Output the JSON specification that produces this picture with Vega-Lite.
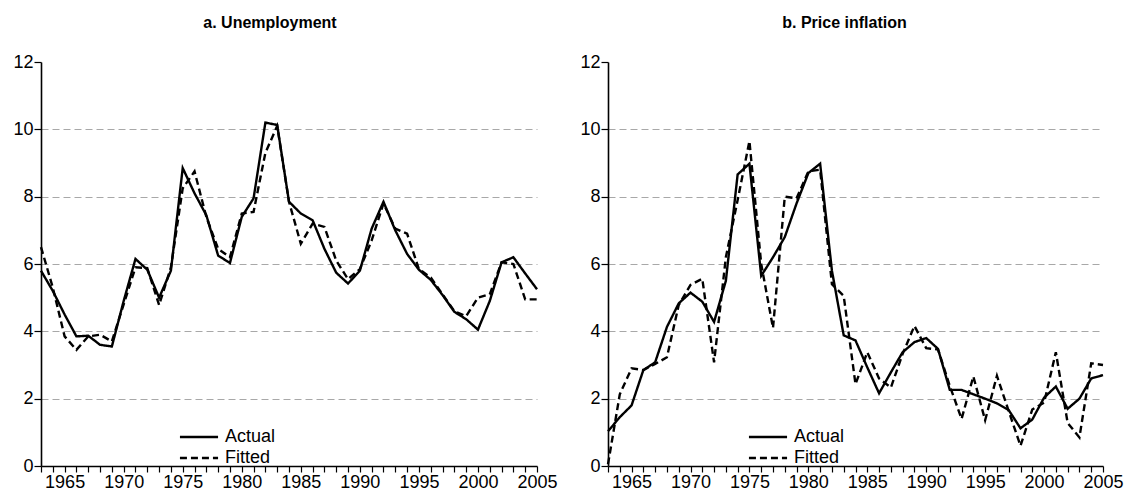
{
  "$schema": "https://vega.github.io/schema/vega-lite/v6.json",
  "background": "white",
  "padding": {"left": 12, "top": 15, "right": 2, "bottom": 5},
  "config": {
    "font": "Liberation Sans",
    "view": {"stroke": null},
    "axis": {
      "labelFont": "Liberation Sans", "labelFontSize": 18, "labelColor": "#000",
      "domainColor": "#000", "domainWidth": 1.6, "tickColor": "#000", "tickWidth": 1.2,
      "title": null
    },
    "title": {"font": "Liberation Sans", "fontSize": 16, "fontWeight": "bold", "color": "#000", "offset": 22},
    "legend": {"labelFont": "Liberation Sans", "labelFontSize": 18, "labelColor": "#000"}
  },
  "datasets": {
    "unemp": [
      {"year":1963,"series":"Actual","value":5.8},{"year":1964,"series":"Actual","value":5.2},{"year":1965,"series":"Actual","value":4.5},{"year":1966,"series":"Actual","value":3.85},{"year":1967,"series":"Actual","value":3.87},{"year":1968,"series":"Actual","value":3.6},{"year":1969,"series":"Actual","value":3.55},{"year":1970,"series":"Actual","value":4.9},{"year":1971,"series":"Actual","value":6.15},{"year":1972,"series":"Actual","value":5.83},{"year":1973,"series":"Actual","value":5.0},{"year":1974,"series":"Actual","value":5.8},{"year":1975,"series":"Actual","value":8.85},{"year":1976,"series":"Actual","value":8.1},{"year":1977,"series":"Actual","value":7.45},{"year":1978,"series":"Actual","value":6.25},{"year":1979,"series":"Actual","value":6.03},{"year":1980,"series":"Actual","value":7.4},{"year":1981,"series":"Actual","value":7.95},{"year":1982,"series":"Actual","value":10.2},{"year":1983,"series":"Actual","value":10.13},{"year":1984,"series":"Actual","value":7.85},{"year":1985,"series":"Actual","value":7.5},{"year":1986,"series":"Actual","value":7.3},{"year":1987,"series":"Actual","value":6.45},{"year":1988,"series":"Actual","value":5.74},{"year":1989,"series":"Actual","value":5.42},{"year":1990,"series":"Actual","value":5.8},{"year":1991,"series":"Actual","value":7.05},{"year":1992,"series":"Actual","value":7.85},{"year":1993,"series":"Actual","value":7.0},{"year":1994,"series":"Actual","value":6.3},{"year":1995,"series":"Actual","value":5.83},{"year":1996,"series":"Actual","value":5.53},{"year":1997,"series":"Actual","value":5.08},{"year":1998,"series":"Actual","value":4.58},{"year":1999,"series":"Actual","value":4.36},{"year":2000,"series":"Actual","value":4.05},{"year":2001,"series":"Actual","value":4.9},{"year":2002,"series":"Actual","value":6.05},{"year":2003,"series":"Actual","value":6.2},{"year":2004,"series":"Actual","value":5.72},{"year":2005,"series":"Actual","value":5.25},
      {"year":1963,"series":"Fitted","value":6.5},{"year":1964,"series":"Fitted","value":5.3},{"year":1965,"series":"Fitted","value":3.85},{"year":1966,"series":"Fitted","value":3.45},{"year":1967,"series":"Fitted","value":3.85},{"year":1968,"series":"Fitted","value":3.9},{"year":1969,"series":"Fitted","value":3.7},{"year":1970,"series":"Fitted","value":4.8},{"year":1971,"series":"Fitted","value":5.9},{"year":1972,"series":"Fitted","value":5.88},{"year":1973,"series":"Fitted","value":4.78},{"year":1974,"series":"Fitted","value":5.9},{"year":1975,"series":"Fitted","value":8.25},{"year":1976,"series":"Fitted","value":8.75},{"year":1977,"series":"Fitted","value":7.4},{"year":1978,"series":"Fitted","value":6.45},{"year":1979,"series":"Fitted","value":6.2},{"year":1980,"series":"Fitted","value":7.5},{"year":1981,"series":"Fitted","value":7.55},{"year":1982,"series":"Fitted","value":9.3},{"year":1983,"series":"Fitted","value":10.1},{"year":1984,"series":"Fitted","value":7.85},{"year":1985,"series":"Fitted","value":6.6},{"year":1986,"series":"Fitted","value":7.2},{"year":1987,"series":"Fitted","value":7.1},{"year":1988,"series":"Fitted","value":6.1},{"year":1989,"series":"Fitted","value":5.55},{"year":1990,"series":"Fitted","value":5.85},{"year":1991,"series":"Fitted","value":6.7},{"year":1992,"series":"Fitted","value":7.8},{"year":1993,"series":"Fitted","value":7.05},{"year":1994,"series":"Fitted","value":6.9},{"year":1995,"series":"Fitted","value":5.85},{"year":1996,"series":"Fitted","value":5.6},{"year":1997,"series":"Fitted","value":5.1},{"year":1998,"series":"Fitted","value":4.6},{"year":1999,"series":"Fitted","value":4.45},{"year":2000,"series":"Fitted","value":5.0},{"year":2001,"series":"Fitted","value":5.1},{"year":2002,"series":"Fitted","value":6.05},{"year":2003,"series":"Fitted","value":6.0},{"year":2004,"series":"Fitted","value":4.95},{"year":2005,"series":"Fitted","value":4.95}
    ],
    "infl": [
      {"year":1963,"series":"Actual","value":1.03},{"year":1964,"series":"Actual","value":1.45},{"year":1965,"series":"Actual","value":1.8},{"year":1966,"series":"Actual","value":2.85},{"year":1967,"series":"Actual","value":3.08},{"year":1968,"series":"Actual","value":4.13},{"year":1969,"series":"Actual","value":4.83},{"year":1970,"series":"Actual","value":5.15},{"year":1971,"series":"Actual","value":4.88},{"year":1972,"series":"Actual","value":4.28},{"year":1973,"series":"Actual","value":5.5},{"year":1974,"series":"Actual","value":8.66},{"year":1975,"series":"Actual","value":8.98},{"year":1976,"series":"Actual","value":5.65},{"year":1977,"series":"Actual","value":6.2},{"year":1978,"series":"Actual","value":6.8},{"year":1979,"series":"Actual","value":7.8},{"year":1980,"series":"Actual","value":8.7},{"year":1981,"series":"Actual","value":8.98},{"year":1982,"series":"Actual","value":5.8},{"year":1983,"series":"Actual","value":3.88},{"year":1984,"series":"Actual","value":3.73},{"year":1985,"series":"Actual","value":2.93},{"year":1986,"series":"Actual","value":2.16},{"year":1987,"series":"Actual","value":2.78},{"year":1988,"series":"Actual","value":3.38},{"year":1989,"series":"Actual","value":3.68},{"year":1990,"series":"Actual","value":3.8},{"year":1991,"series":"Actual","value":3.48},{"year":1992,"series":"Actual","value":2.26},{"year":1993,"series":"Actual","value":2.26},{"year":1994,"series":"Actual","value":2.13},{"year":1995,"series":"Actual","value":2.0},{"year":1996,"series":"Actual","value":1.86},{"year":1997,"series":"Actual","value":1.66},{"year":1998,"series":"Actual","value":1.12},{"year":1999,"series":"Actual","value":1.38},{"year":2000,"series":"Actual","value":2.03},{"year":2001,"series":"Actual","value":2.36},{"year":2002,"series":"Actual","value":1.7},{"year":2003,"series":"Actual","value":2.0},{"year":2004,"series":"Actual","value":2.6},{"year":2005,"series":"Actual","value":2.7},
      {"year":1963,"series":"Fitted","value":0.05},{"year":1964,"series":"Fitted","value":2.13},{"year":1965,"series":"Fitted","value":2.9},{"year":1966,"series":"Fitted","value":2.85},{"year":1967,"series":"Fitted","value":3.03},{"year":1968,"series":"Fitted","value":3.23},{"year":1969,"series":"Fitted","value":4.78},{"year":1970,"series":"Fitted","value":5.38},{"year":1971,"series":"Fitted","value":5.56},{"year":1972,"series":"Fitted","value":3.08},{"year":1973,"series":"Fitted","value":6.2},{"year":1974,"series":"Fitted","value":7.9},{"year":1975,"series":"Fitted","value":9.65},{"year":1976,"series":"Fitted","value":6.0},{"year":1977,"series":"Fitted","value":4.1},{"year":1978,"series":"Fitted","value":8.0},{"year":1979,"series":"Fitted","value":7.95},{"year":1980,"series":"Fitted","value":8.75},{"year":1981,"series":"Fitted","value":8.8},{"year":1982,"series":"Fitted","value":5.4},{"year":1983,"series":"Fitted","value":5.05},{"year":1984,"series":"Fitted","value":2.43},{"year":1985,"series":"Fitted","value":3.38},{"year":1986,"series":"Fitted","value":2.6},{"year":1987,"series":"Fitted","value":2.33},{"year":1988,"series":"Fitted","value":3.33},{"year":1989,"series":"Fitted","value":4.16},{"year":1990,"series":"Fitted","value":3.5},{"year":1991,"series":"Fitted","value":3.46},{"year":1992,"series":"Fitted","value":2.38},{"year":1993,"series":"Fitted","value":1.4},{"year":1994,"series":"Fitted","value":2.66},{"year":1995,"series":"Fitted","value":1.36},{"year":1996,"series":"Fitted","value":2.68},{"year":1997,"series":"Fitted","value":1.63},{"year":1998,"series":"Fitted","value":0.6},{"year":1999,"series":"Fitted","value":1.68},{"year":2000,"series":"Fitted","value":1.88},{"year":2001,"series":"Fitted","value":3.38},{"year":2002,"series":"Fitted","value":1.28},{"year":2003,"series":"Fitted","value":0.85},{"year":2004,"series":"Fitted","value":3.05},{"year":2005,"series":"Fitted","value":3.0}
    ]
  },
  "spacing": 21,
  "resolve": {"scale": {"strokeDash": "independent"}, "legend": {"strokeDash": "independent"}},
  "hconcat": [
    {
      "width": 496, "height": 404,
      "title": {"text": "a. Unemployment", "dx": -19},
      "data": {"name": "unemp"},
      "mark": {"type": "line", "color": "#000", "strokeWidth": 2.4},
      "encoding": {
        "x": {"field": "year", "type": "quantitative", "scale": {"domain": [1963, 2005], "nice": false, "zero": false},
          "axis": {"values": [1963,1964,1965,1966,1967,1968,1969,1970,1971,1972,1973,1974,1975,1976,1977,1978,1979,1980,1981,1982,1983,1984,1985,1986,1987,1988,1989,1990,1991,1992,1993,1994,1995,1996,1997,1998,1999,2000,2001,2002,2003,2004,2005],
            "labelExpr": "datum.value % 5 == 0 ? datum.value : ''", "labelOverlap": false, "labelFlush": false, "grid": false, "tickSize": 6, "labelPadding": 1}},
        "y": {"field": "value", "type": "quantitative", "scale": {"domain": [0, 12], "nice": false},
          "axis": {"values": [0,2,4,6,8,10,12], "tickSize": 7, "labelPadding": 1, "labelFlush": false, "grid": true, "gridColor": "#a8a8a8", "gridDash": [7,4], "gridWidth": 1,
            "gridOpacity": {"condition": {"test": "datum.value == 0 || datum.value == 12", "value": 0}, "value": 1}}},
        "strokeDash": {"field": "series", "type": "nominal", "scale": {"domain": ["Actual", "Fitted"], "range": [[1, 0], [7, 4]]},
          "legend": {"title": null, "orient": "none", "legendX": 148, "legendY": 365, "symbolType": "M-2.2,0H2.2", "symbolSize": 300, "symbolStrokeWidth": 2.5, "symbolStrokeColor": "#000", "symbolFillColor": "transparent", "rowPadding": 2, "labelOffset": 16}}
      }
    },
    {
      "width": 495, "height": 404,
      "title": {"text": "b. Price inflation", "dx": -11},
      "data": {"name": "infl"},
      "mark": {"type": "line", "color": "#000", "strokeWidth": 2.4},
      "encoding": {
        "x": {"field": "year", "type": "quantitative", "scale": {"domain": [1963, 2005], "nice": false, "zero": false},
          "axis": {"values": [1963,1964,1965,1966,1967,1968,1969,1970,1971,1972,1973,1974,1975,1976,1977,1978,1979,1980,1981,1982,1983,1984,1985,1986,1987,1988,1989,1990,1991,1992,1993,1994,1995,1996,1997,1998,1999,2000,2001,2002,2003,2004,2005],
            "labelExpr": "datum.value % 5 == 0 ? datum.value : ''", "labelOverlap": false, "labelFlush": false, "grid": false, "tickSize": 6, "labelPadding": 1}},
        "y": {"field": "value", "type": "quantitative", "scale": {"domain": [0, 12], "nice": false},
          "axis": {"values": [0,2,4,6,8,10,12], "tickSize": 7, "labelPadding": 1, "labelFlush": false, "grid": true, "gridColor": "#a8a8a8", "gridDash": [7,4], "gridWidth": 1,
            "gridOpacity": {"condition": {"test": "datum.value == 0 || datum.value == 12", "value": 0}, "value": 1}}},
        "strokeDash": {"field": "series", "type": "nominal", "scale": {"domain": ["Actual", "Fitted"], "range": [[1, 0], [7, 4]]},
          "legend": {"title": null, "orient": "none", "legendX": 150, "legendY": 365, "symbolType": "M-2.2,0H2.2", "symbolSize": 300, "symbolStrokeWidth": 2.5, "symbolStrokeColor": "#000", "symbolFillColor": "transparent", "rowPadding": 2, "labelOffset": 16}}
      }
    }
  ]
}
